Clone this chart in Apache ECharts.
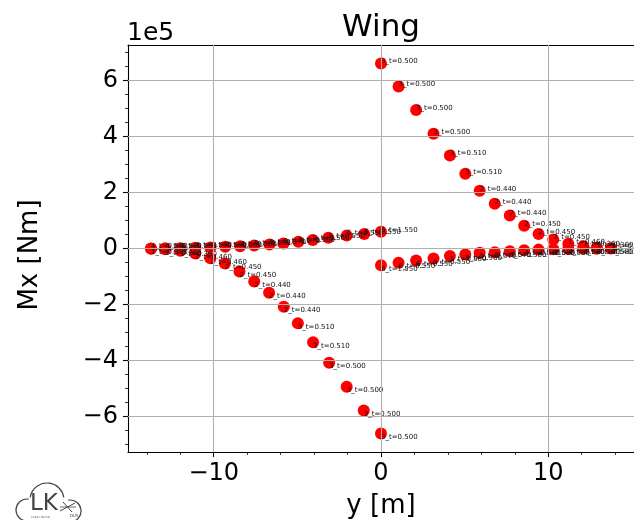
<!DOCTYPE html>
<html>
<head>
<meta charset="utf-8">
<script src="https://cdn.jsdelivr.net/npm/echarts@6/dist/echarts.min.js"></script>
<style>
  html, body { margin: 0; padding: 0; background: #fff; }
  #chart { width: 634px; height: 520px; }
</style>
</head>
<body>
<div id="chart"></div>
<script>
'use strict'

/* Wing root bending moment, four branches (y in m, Mx in Nm) */
var urY = [0, 1.05, 2.1, 3.14, 4.12, 5.04, 5.9, 6.8, 7.7, 8.56, 9.42, 10.3, 11.2, 12.1, 12.9, 13.75];
var urMx = [661000, 579000, 495000, 410000, 332000, 267000, 206000, 160000, 118000, 81000, 52000, 32000, 17000, 8000, 3000, 1000];
var urText = ['3_t=0.500', '3_t=0.500', '3_t=0.500', '3_t=0.500', '3_t=0.510', '3_t=0.510', '2_t=0.440', '2_t=0.440',
    '2_t=0.440', '2_t=0.450', '2_t=0.450', '2_t=0.450', '1_t=0.460', '1_t=0.360', '1_t=0.360', '1_t=0.390'];

var llY = [0, -1.03, -2.05, -3.1, -4.06, -4.97, -5.81, -6.69, -7.58, -8.46, -9.33, -10.2, -11.1, -12.0, -12.9, -13.75];
var llMx = [-661000, -579000, -494000, -408000, -335000, -267000, -208000, -158000, -118000, -82000, -54000, -35000, -18000, -8000, -3000, -1000];
var llText = ['3_t=0.500', '3_t=0.500', '3_t=0.500', '3_t=0.500', '3_t=0.510', '3_t=0.510', '2_t=0.440', '2_t=0.440',
    '2_t=0.440', '2_t=0.450', '2_t=0.450', '2_t=0.460', '2_t=0.460', '1_t=0.360', '1_t=0.360', '1_t=0.390'];

var ulY = [0, -1.0, -2.05, -3.15, -4.08, -4.94, -5.83, -6.67, -7.58, -8.42, -9.31, -10.2, -11.1, -12.0, -12.9, -13.75];
var ulMx = [60000, 52000, 46000, 38000, 30000, 24000, 18000, 14000, 11000, 8000, 6000, 4000, 3000, 1000, 1000, 0];
var ulText = ['6_t=1.550', '6_t=0.550', '6_t=0.550', '5_t=0.550', '5_t=0.560', '5_t=0.560', '5_t=0.570', '5_t=0.570',
    '5_t=0.580', '4_t=0.580', '4_t=0.580', '4_t=0.580', '4_t=0.580', '4_t=0.580', '4_t=0.580', '4_t=0.580'];

var lrY = [0, 1.05, 2.1, 3.14, 4.12, 5.04, 5.9, 6.8, 7.7, 8.56, 9.42, 10.3, 11.2, 12.1, 12.9, 13.75];
var lrMx = [-60000, -51000, -43000, -36000, -27000, -21000, -15000, -13000, -10000, -6000, -4000, -3000, -2000, -1000, -1000, 0];
var lrText = ['6_t=1.550', '6_t=0.550', '6_t=0.550', '5_t=0.550', '5_t=0.560', '5_t=0.560', '5_t=0.570', '5_t=0.570',
    '5_t=0.580', '4_t=0.580', '4_t=0.580', '4_t=0.580', '4_t=0.580', '4_t=0.580', '4_t=0.580', '4_t=0.580'];

/* ticks */
var xMajor = [-10, 0, 10];
var xMinor = [-14, -12, -8, -6, -4, -2, 2, 4, 6, 8, 12, 14];
var yMajor = [-600000, -400000, -200000, 0, 200000, 400000, 600000];
var yMinor = [-700000, -650000, -550000, -500000, -450000, -350000, -300000, -250000, -150000, -100000, -50000,
    50000, 100000, 150000, 250000, 300000, 350000, 450000, 500000, 550000, 650000, 700000];

var font = 'DejaVu Sans';
var minus = function (v) { return String(v).replace('-', '\u2212'); };

function pts(xs, ys, names) {
    return xs.map(function (x, i) { return { value: [x, ys[i]], name: names[i] }; });
}

function branch(xs, ys, names, above) {
    return {
        type: 'scatter',
        z: 3,
        symbolSize: 12,
        itemStyle: { color: '#ff0000', opacity: 1 },
        data: pts(xs, ys, names),
        label: {
            show: true,
            formatter: '{b}',
            position: above ? [6, 7.5] : [6, 6],
            align: 'left',
            verticalAlign: above ? 'bottom' : 'top',
            fontSize: 7,
            fontFamily: font,
            color: '#111'
        },
        labelLayout: { hideOverlap: false },
        silent: true
    };
}

var gridLines = xMajor.map(function (v) { return { xAxis: v }; })
    .concat(yMajor.map(function (v) { return { yAxis: v }; }));

function txt(s, x, y, size, rot) {
    return {
        type: 'text', x: x, y: y, rotation: rot || 0, silent: true,
        style: { text: s, fontSize: size, fontFamily: font, fill: '#000', align: 'center', verticalAlign: 'middle' }
    };
}

function arc(cx, cy, r, a0, a1) {
    return {
        type: 'arc', silent: true,
        shape: { cx: cx, cy: cy, r: r, startAngle: a0, endAngle: a1, clockwise: true },
        style: { fill: 'none', stroke: '#444', lineWidth: 1.2 }
    };
}

var chart = echarts.init(document.getElementById('chart'));

chart.setOption({
    animation: false,
    backgroundColor: '#fff',
    grid: { left: 128, top: 45, right: -1, bottom: 68, containLabel: false },
    xAxis: [{
        type: 'value', min: -15.125, max: 15.125, position: 'bottom',
        axisLine: { show: true, onZero: false, lineStyle: { color: '#000', width: 1.1 } },
        axisTick: { show: true, customValues: xMajor, length: 5, lineStyle: { color: '#000', width: 1.1 } },
        axisLabel: { customValues: xMajor, formatter: minus, fontSize: 24, fontFamily: font, color: '#000', margin: 10 },
        splitLine: { show: false }
    }, {
        type: 'value', min: -15.125, max: 15.125, position: 'bottom',
        axisLine: { show: false, onZero: false },
        axisTick: { show: true, customValues: xMinor, length: 3, lineStyle: { color: '#000', width: 0.8 } },
        axisLabel: { show: false },
        splitLine: { show: false }
    }, {
        type: 'value', min: -15.125, max: 15.125, position: 'top',
        axisLine: { show: true, onZero: false, lineStyle: { color: '#000', width: 1.1 } },
        axisTick: { show: false },
        axisLabel: { show: false },
        splitLine: { show: false }
    }],
    yAxis: [{
        type: 'value', min: -727000, max: 727000, position: 'left',
        axisLine: { show: true, onZero: false, lineStyle: { color: '#000', width: 1.1 } },
        axisTick: { show: true, customValues: yMajor, length: 5, lineStyle: { color: '#000', width: 1.1 } },
        axisLabel: {
            customValues: yMajor, fontSize: 24, fontFamily: font, color: '#000', margin: 10,
            formatter: function (v) { return minus(Math.round(v / 100000)); }
        },
        splitLine: { show: false }
    }, {
        type: 'value', min: -727000, max: 727000, position: 'left',
        axisLine: { show: false, onZero: false },
        axisTick: { show: true, customValues: yMinor, length: 3, lineStyle: { color: '#000', width: 0.8 } },
        axisLabel: { show: false },
        splitLine: { show: false }
    }],
    series: [{
        type: 'scatter',
        z: 1,
        symbolSize: 0,
        data: [[0, 0]],
        silent: true,
        markLine: {
            silent: true,
            symbol: ['none', 'none'],
            label: { show: false },
            lineStyle: { color: '#b0b0b0', width: 1.1, type: 'solid' },
            data: gridLines
        }
    },
        branch(ulY, ulMx, ulText, true),
        branch(lrY, lrMx, lrText, false),
        branch(urY, urMx, urText, true),
        branch(llY, llMx, llText, false)
    ],
    graphic: [
        txt('Wing', 381, 28, 31),
        { type: 'text', x: 127, y: 33, silent: true, style: { text: '1e5', fontSize: 25, fontFamily: font, fill: '#000', align: 'left', verticalAlign: 'middle' } },
        txt('Mx [Nm]', 30, 255, 26, Math.PI / 2),
        txt('y [m]', 381, 506, 26),
        /* logo */
        arc(27, 510, 11, Math.PI * 0.5, Math.PI * 1.55),
        arc(47, 500, 17, Math.PI * 1.05, Math.PI * 1.95),
        arc(70, 511, 11, Math.PI * 1.45, Math.PI * 2.5),
        { type: 'text', x: 30, y: 504, silent: true, style: { text: 'LK', fontSize: 23, fontFamily: font, fill: '#444', align: 'left', verticalAlign: 'middle' } },
        { type: 'text', x: 31, y: 517, silent: true, style: { text: 'Loads Kernel', fontSize: 3, fontFamily: font, fill: '#666', align: 'left', verticalAlign: 'middle' } },
        { type: 'line', silent: true, shape: { x1: 60, y1: 511, x2: 75, y2: 503 }, style: { stroke: '#444', lineWidth: 1 } },
        { type: 'line', silent: true, shape: { x1: 63, y1: 502, x2: 72, y2: 512 }, style: { stroke: '#444', lineWidth: 1 } },
        { type: 'line', silent: true, shape: { x1: 60, y1: 507, x2: 76, y2: 507 }, style: { stroke: '#444', lineWidth: 0.8 } },
        { type: 'text', x: 70, y: 516, silent: true, style: { text: 'DLR', fontSize: 4, fontFamily: font, fill: '#444', align: 'left', verticalAlign: 'middle' } }
    ]
});
</script>
</body>
</html>
